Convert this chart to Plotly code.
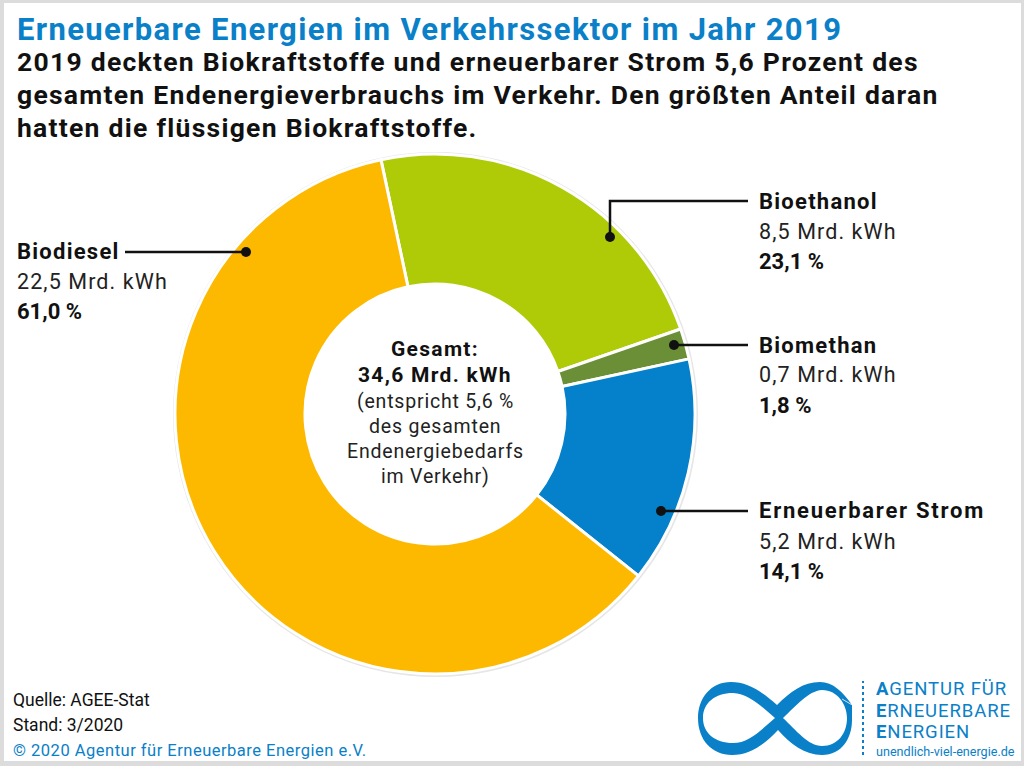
import plotly.graph_objects as go

W, H = 1024, 766
FONT = "Roboto"
BLUE = "#0a80c8"

# data
categories = ["Bioethanol", "Biomethan", "Erneuerbarer Strom", "Biodiesel"]
values = [8.5, 0.7, 5.2, 22.5]
colors = ["#afcb08", "#6a8f36", "#0580cb", "#fdb900"]
amount_labels = ["8,5 Mrd. kWh", "0,7 Mrd. kWh", "5,2 Mrd. kWh", "22,5 Mrd. kWh"]
share_labels = ["23,1 %", "1,8 %", "14,1 %", "61,0 %"]

title = "Erneuerbare Energien im Verkehrssektor im Jahr 2019"
subtitle_lines = [
    "2019 deckten Biokraftstoffe und erneuerbarer Strom 5,6 Prozent des",
    "gesamten Endenergieverbrauchs im Verkehr. Den größten Anteil daran",
    "hatten die flüssigen Biokraftstoffe.",
]
center_lines = [("Gesamt:", True), ("34,6 Mrd. kWh", True), ("(entspricht 5,6 %", False),
                ("des gesamten", False), ("Endenergiebedarfs", False), ("im Verkehr)", False)]
center_ys = [349, 375, 401, 426, 452, 477]
label_pos = {"Bioethanol": (759, 201), "Biomethan": (759, 345),
             "Erneuerbarer Strom": (759, 511), "Biodiesel": (17, 251)}
leaders = [
    [(610, 237), (610, 201), (748, 201)],
    [(674, 345), (748, 345)],
    [(661, 511), (748, 511)],
    [(246, 252), (125, 252)],
]


def px(x):
    return x / W


def py(y):
    return 1 - y / H


def text(x, y, s, size, color="#111111", anchor="left", spacing=0, bold=False):
    if bold:
        s = f"<b>{s}</b>"
    if spacing:
        s = f'<span style="letter-spacing:{spacing}px">{s}</span>'
    return dict(x=px(x - 2 if anchor == "left" else x), y=py(y), xref="paper", yref="paper", text=s,
                showarrow=False, xanchor=anchor, yanchor="middle", align=anchor,
                font=dict(family=FONT, size=size, color=color))


fig = go.Figure(go.Pie(
    labels=categories, values=values, sort=False, direction="clockwise", rotation=348,
    hole=0.5, textinfo="none", showlegend=False, hoverinfo="skip",
    marker=dict(colors=colors, line=dict(color="white", width=3)),
    domain=dict(x=[px(175), px(695)], y=[py(674), py(154)]),
))

ann = [text(17, 29, title, 31, BLUE, spacing=1.35, bold=True)]
for y, s in zip([61, 94, 127], subtitle_lines):
    ann.append(text(17, y, s, 26.5, spacing=1.27, bold=True))
for c, a, p in zip(categories, amount_labels, share_labels):
    x, y = label_pos[c]
    ann.append(text(x, y, c, 22, spacing=1.75 if len(c) > 12 else 1.25, bold=True))
    ann.append(text(x, y + 30, a, 21.5, "#222222", spacing=1.1))
    ann.append(text(x, y + 60, p, 22, bold=True))
for y, (s, b) in zip(center_ys, center_lines):
    if b:
        ann.append(text(435, y, s, 21, anchor="center", spacing=1.3, bold=True))
    else:
        ann.append(text(435, y, s, 19.5, "#222222", "center", spacing=0.8))
ann.append(text(13, 700, "Quelle: AGEE-Stat", 17.5))
ann.append(text(13, 725, "Stand: 3/2020", 17.5))
ann.append(text(13, 750, "© 2020 Agentur für Erneuerbare Energien e.V.", 16.5, BLUE, spacing=0.5))
for y, first, rest in [(689, "A", "GENTUR FÜR"), (711, "E", "RNEUERBARE"), (732, "E", "NERGIEN")]:
    ann.append(text(876, y, f"<b>{first}</b>{rest}", 18.5, BLUE, spacing=0.9))
ann.append(text(876, 751, "unendlich-viel-energie.de", 12.6, BLUE))

shapes = [
    dict(type="rect", xref="paper", yref="paper", x0=0, x1=1, y0=0, y1=1, layer="below",
         fillcolor="white", line=dict(width=0)),
    dict(type="circle", xref="paper", yref="paper", x0=px(173), x1=px(698), y0=py(677), y1=py(152),
         layer="below", fillcolor="#e6e6e6", line=dict(width=0)),
    dict(type="circle", xref="paper", yref="paper", x0=px(305), x1=px(565), y0=py(544), y1=py(284),
         layer="below", fillcolor="white", line=dict(width=0)),
]
# frame
for x0, x1, y0, y1 in [(0, W, 0, 3), (0, W, H - 5, H), (0, 4, 0, H), (W - 3, W, 0, H)]:
    shapes.append(dict(type="rect", xref="paper", yref="paper", x0=px(x0), x1=px(x1), y0=py(y1), y1=py(y0),
                       fillcolor="#dcdcdc", line=dict(width=0), layer="above"))
# leaders and dots
for pts in leaders:
    path = "M " + " L ".join(f"{px(a)} {py(b)}" for a, b in pts)
    shapes.append(dict(type="path", xref="paper", yref="paper", path=path,
                       line=dict(color="#111111", width=2.5)))
    a, b = pts[0]
    shapes.append(dict(type="circle", xref="paper", yref="paper", x0=px(a - 5), x1=px(a + 5),
                       y0=py(b + 5), y1=py(b - 5), fillcolor="#111111", line=dict(width=0)))


def logo_path(segs):
    out = []
    for cmd, pts in segs:
        out.append(cmd + " " + " ".join(f"{px(a)},{py(b)}" for a, b in pts))
    return " ".join(out)


logo = logo_path([
    ("M", [(777, 705)]),
    ("C", [(760, 690), (747, 682), (731, 682)]),
    ("C", [(711, 682), (698, 698), (698, 718)]),
    ("C", [(698, 740), (712, 755), (732, 755)]),
    ("C", [(750, 755), (765, 744), (778, 730)]),
    ("C", [(790, 744), (805, 755), (822, 755)]),
    ("C", [(842, 755), (852, 738), (852, 720)]),
    ("L", [(852, 705), (847, 705)]),
    ("C", [(843, 692), (833, 682), (820, 682)]),
    ("C", [(803, 682), (790, 692), (777, 705)]),
    ("Z", []),
    ("M", [(775, 718)]),
    ("C", [(761, 706), (749, 694), (733, 693)]),
    ("C", [(715, 693), (703, 703), (703, 718)]),
    ("C", [(703, 733), (715, 743), (733, 743)]),
    ("C", [(749, 743), (761, 730), (775, 718)]),
    ("Z", []),
    ("M", [(783, 718)]),
    ("C", [(796, 706), (808, 691), (822, 690)]),
    ("C", [(838, 690), (847, 705), (847, 718)]),
    ("C", [(847, 733), (838, 746), (822, 746)]),
    ("C", [(808, 746), (796, 730), (783, 718)]),
    ("Z", []),
])
shapes.append(dict(type="path", xref="paper", yref="paper", path=logo, fillcolor=BLUE, line=dict(width=0)))
arrow = logo_path([("M", [(842, 699)]), ("L", [(854, 706), (842, 713)]), ("Z", [])])
shapes.append(dict(type="path", xref="paper", yref="paper", path=arrow, fillcolor=BLUE,
                   line=dict(color="white", width=0.5)))
shapes.append(dict(type="line", xref="paper", yref="paper", x0=px(863), x1=px(863), y0=py(755), y1=py(681),
                   line=dict(color=BLUE, width=2, dash="dot")))

fig.update_layout(width=W, height=H, margin=dict(l=0, r=0, t=0, b=0), paper_bgcolor="white",
                  annotations=ann, shapes=shapes)
fig.write_html("out.html", config=dict(displayModeBar=False),
               post_script="document.body.style.margin='0';document.body.style.overflow='hidden';")
